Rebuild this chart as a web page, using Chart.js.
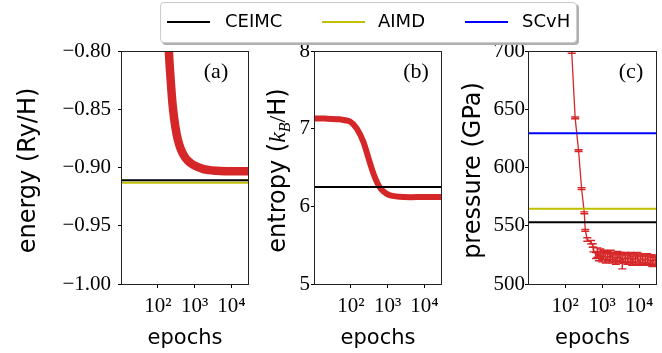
<!DOCTYPE html>
<html>
<head>
<meta charset="utf-8">
<script src="https://cdn.jsdelivr.net/npm/chart.js@4.4.0/dist/chart.umd.min.js"></script>
<style>
  body { margin: 0; background: #fff; }
  #wrap { position: relative; width: 662px; height: 353px; overflow: hidden; }
  #wrap canvas { position: absolute; top: 0; }
  #legend {
    position: absolute; left: 160px; top: 2px; width: 415px; height: 39px;
    border: 1px solid #cccccc; border-radius: 4px; background: #fff;
    box-shadow: 2px 2px 0 #b0b0b0;
    font: 18px "DejaVu Sans", sans-serif;
  }
  #legend .ln { position: absolute; top: 18px; width: 43px; height: 2px; }
  #legend .lt { position: absolute; top: 8px; line-height: 20px; }
</style>
</head>
<body>
<div id="wrap">
  <canvas id="cA" width="254" height="353" style="left:0"></canvas>
  <canvas id="cB" width="192" height="353" style="left:254px"></canvas>
  <canvas id="cC" width="216" height="353" style="left:446px"></canvas>
  <div id="legend">
    <span class="ln" style="left:6px;background:#000"></span><span class="lt" style="left:64px">CEIMC</span>
    <span class="ln" style="left:161px;background:#bfbf00"></span><span class="lt" style="left:217px">AIMD</span>
    <span class="ln" style="left:304px;background:#0000ff"></span><span class="lt" style="left:361px">SCvH</span>
  </div>
</div>
<script>
// ---- data ----
const xMin = 10.6, xMax = 28500;
const xTickVals = [100, 1000, 10000];
const xTickLabels = ['10²', '10³', '10⁴'];

// (a) energy, Ry/H
const energyEpochs = [150, 200, 230, 260, 300, 350, 420, 520, 650, 850, 1200, 1800, 3000, 5000, 10000, 28500];
const energyValues = [-0.70, -0.80, -0.83, -0.85, -0.865, -0.876, -0.884, -0.890, -0.894, -0.897, -0.8995, -0.9015, -0.9025, -0.903, -0.9032, -0.9033];
const energyTicks = [-1.00, -0.95, -0.90, -0.85, -0.80];

// (b) entropy, k_B/H
const entropyEpochs = [10.6, 20, 50, 96, 146, 220, 303, 415, 570, 777, 1180, 2750, 10000, 28500];
const entropyValues = [7.13, 7.13, 7.12, 7.09, 7.00, 6.83, 6.62, 6.42, 6.27, 6.19, 6.14, 6.12, 6.12, 6.12];
const entropyTicks = [5, 6, 7, 8];

// (c) pressure, GPa
const pressureEpochs = [151, 187, 231, 279, 330, 351, 398, 501, 556, 581, 686,
  750, 820, 900, 1000, 1100, 1250, 1400, 1550, 1700, 1900, 2100, 2350, 2600, 2900, 3200,
  3500, 3900, 4300, 4800, 5300, 5900, 6500, 7200, 8000, 8900, 9900, 11000, 12200, 13500,
  15000, 16600, 18400, 20400, 22600, 25000, 27700];
const pressureValues = [698.9, 642.6, 614.5, 581.8, 561.1, 546.0, 538.2, 535.9, 533.0, 529.6, 524.4,
  527, 524, 526, 523, 525, 522, 524, 523, 525, 522, 523, 521, 524, 522, 523,
  519, 522, 523, 521, 522, 523, 520, 522, 521, 523, 520, 521, 522, 520,
  521, 522, 520, 521, 519, 521, 520];
const pressureErrors = [0.8, 0.8, 0.8, 0.8, 0.8, 0.8, 1.5, 1.5, 1.5, 2, 2.5,
  4, 4, 4, 4, 4, 4, 4, 4, 4, 4, 4, 4, 4, 4, 4,
  6, 4, 4, 4, 4, 4, 4, 4, 4, 4, 4, 4, 4, 4,
  4, 4, 4, 4, 4, 4, 4];
const pressureTicks = [500, 550, 600, 650, 700];

// reference lines: CEIMC, AIMD, SCvH
const energyRef = [-0.911, -0.913];
const entropyRef = [6.25];
const pressureRef = [553, 564.5, 629.5];

const refColors = ['#000000', '#bfbf00', '#0000ff'];
const red = '#d62728';
const SANS = '"DejaVu Sans", sans-serif';
const SERIF = '"Liberation Serif", serif';

function pts(xs, ys) { return xs.map((x, i) => ({ x: x, y: ys[i] })); }

function refSets(vals) {
  return vals.map((v, i) => ({
    data: [{ x: xMin, y: v }, { x: xMax, y: v }],
    borderColor: refColors[i], borderWidth: 2, pointRadius: 0, clip: 0, order: 0
  }));
}

// frame, panel letter and rich y-axis title
const decor = {
  id: 'decor',
  afterDraw(chart, args, o) {
    const ctx = chart.ctx, a = chart.chartArea;
    ctx.save();
    ctx.strokeStyle = '#222';
    ctx.lineWidth = 1;
    ctx.strokeRect(a.left - 0.5, a.top + 0.5, a.right - a.left + 1, a.bottom - a.top);
    ctx.fillStyle = '#000';
    ctx.font = '22px ' + SERIF;
    ctx.textAlign = 'center';
    ctx.textBaseline = 'middle';
    ctx.fillText(o.label, o.labelX, a.top + 21);
    // y title
    let total = 0;
    o.title.forEach(p => { ctx.font = p.f; total += ctx.measureText(p.t).width; });
    ctx.translate(o.titleX, (a.top + a.bottom) / 2 + 3);
    ctx.rotate(-Math.PI / 2);
    ctx.textAlign = 'left';
    ctx.textBaseline = 'alphabetic';
    let x = -total / 2;
    o.title.forEach(p => {
      ctx.font = p.f;
      ctx.fillText(p.t, x, 8 + (p.dy || 0));
      x += ctx.measureText(p.t).width;
    });
    ctx.restore();
  }
};

// error bars for pressure
const errBars = {
  id: 'errBars',
  afterDatasetsDraw(chart, args, o) {
    if (!o.on) return;
    const ctx = chart.ctx, a = chart.chartArea;
    const xs = chart.scales.x, ys = chart.scales.y;
    ctx.save();
    ctx.beginPath();
    ctx.rect(a.left, a.top, a.right - a.left, a.bottom - a.top);
    ctx.clip();
    ctx.strokeStyle = red;
    ctx.lineWidth = 1.4;
    pressureEpochs.forEach((e, i) => {
      const px = xs.getPixelForValue(e);
      const lo = ys.getPixelForValue(pressureValues[i] - pressureErrors[i]);
      const hi = ys.getPixelForValue(pressureValues[i] + pressureErrors[i]);
      ctx.beginPath();
      ctx.moveTo(px, lo); ctx.lineTo(px, hi);
      ctx.moveTo(px - 4, lo); ctx.lineTo(px + 4, lo);
      ctx.moveTo(px - 4, hi); ctx.lineTo(px + 4, hi);
      ctx.stroke();
    });
    ctx.restore();
  }
};

function makeChart(id, cfg) {
  return new Chart(document.getElementById(id), {
    type: 'line',
    data: { datasets: cfg.datasets },
    plugins: [decor, errBars],
    options: {
      responsive: false,
      devicePixelRatio: 1,
      animation: false,
      events: [],
      layout: { padding: { top: 51, right: cfg.padRight, left: 0, bottom: 0 } },
      plugins: {
        legend: { display: false },
        tooltip: { enabled: false },
        decor: { label: cfg.label, labelX: cfg.labelX, title: cfg.title, titleX: cfg.titleX },
        errBars: { on: !!cfg.errBars }
      },
      scales: {
        x: {
          type: 'logarithmic',
          min: xMin, max: xMax,
          afterBuildTicks: s => { s.ticks = xTickVals.map(v => ({ value: v })); },
          afterFit: s => { s.height = 69; },
          border: { display: false },
          grid: { drawOnChartArea: false, drawTicks: true, tickLength: 4, color: '#000' },
          ticks: {
            autoSkip: false, maxRotation: 0, padding: 6, color: '#000',
            font: { family: SERIF, size: 21 },
            callback: v => xTickLabels[xTickVals.indexOf(v)] || ''
          },
          title: {
            display: true, text: 'epochs', color: '#000',
            font: { family: SANS, size: 21 }, padding: { top: 0, bottom: 2 }
          }
        },
        y: {
          min: cfg.yTicks[0], max: cfg.yTicks[cfg.yTicks.length - 1],
          afterBuildTicks: s => { s.ticks = cfg.yTicks.map(v => ({ value: v })); },
          afterFit: s => { s.width = cfg.yWidth; },
          border: { display: false },
          grid: { drawOnChartArea: false, drawTicks: true, tickLength: 4, color: '#000' },
          ticks: {
            padding: cfg.tickPad, color: '#000',
            font: { family: SERIF, size: 21 },
            callback: v => cfg.fmt(v)
          }
        }
      }
    }
  });
}

const minus = s => s.replace('-', '\u2212');

makeChart('cA', {
  datasets: [{
    data: pts(energyEpochs, energyValues), borderColor: red, borderWidth: 8.5,
    pointRadius: 0, tension: 0.3, clip: 0, order: 1
  }].concat(refSets(energyRef)),
  yTicks: energyTicks, yWidth: 122, padRight: 6, tickPad: 7,
  fmt: v => minus(v.toFixed(2)),
  label: '(a)', labelX: 216, titleX: 27,
  title: [{ t: 'energy (Ry/H)', f: '24px ' + SANS }]
});

makeChart('cB', {
  datasets: [{
    data: pts(entropyEpochs, entropyValues), borderColor: red, borderWidth: 6,
    pointRadius: 0, tension: 0.3, clip: 0, order: 1
  }].concat(refSets(entropyRef)),
  yTicks: entropyTicks, yWidth: 61, padRight: 5, tickPad: 1,
  fmt: v => String(v),
  label: '(b)', labelX: 416 - 254, titleX: 23,
  title: [
    { t: 'entropy (', f: '24px ' + SANS },
    { t: 'k', f: 'italic 24px ' + SERIF },
    { t: 'B', f: 'italic 16px ' + SERIF, dy: 5 },
    { t: '/', f: '24px ' + SERIF },
    { t: 'H)', f: '24px ' + SANS }
  ]
});

makeChart('cC', {
  datasets: [{
    data: pts(pressureEpochs, pressureValues), borderColor: red, borderWidth: 1.3,
    pointRadius: 0, tension: 0, clip: 0, order: 1
  }].concat(refSets(pressureRef)),
  yTicks: pressureTicks, yWidth: 83, padRight: 6, tickPad: 0,
  fmt: v => String(v),
  label: '(c)', labelX: 631 - 446, titleX: 26,
  title: [{ t: 'pressure (GPa)', f: '24px ' + SANS }],
  errBars: true
});
</script>
</body>
</html>
